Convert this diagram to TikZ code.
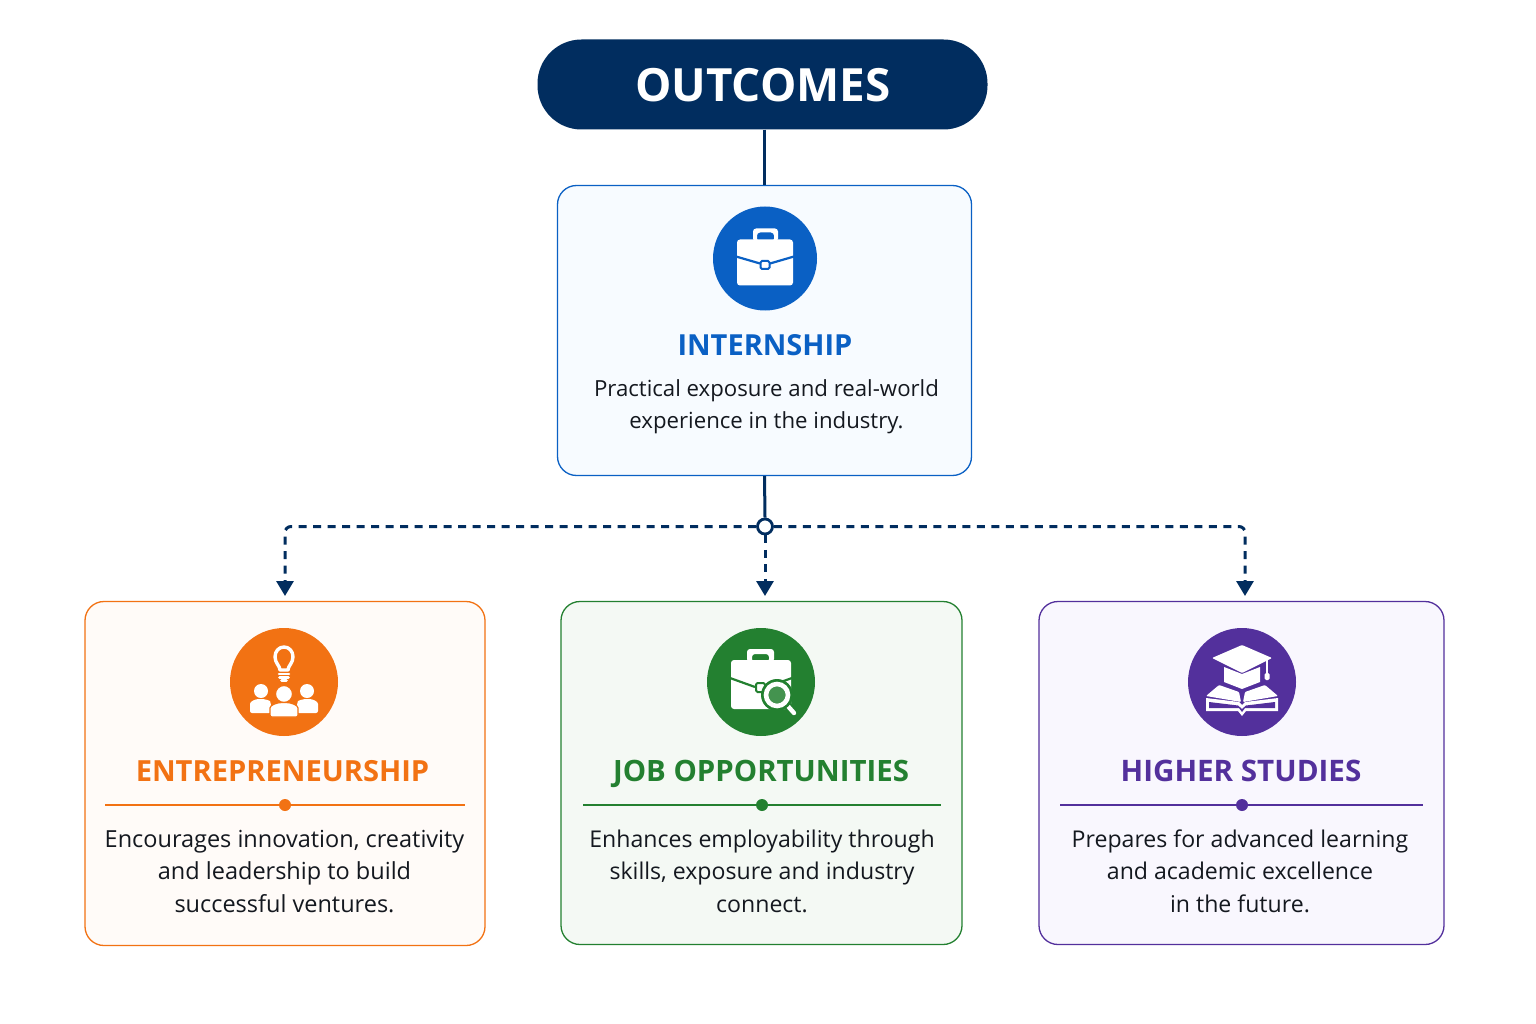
\documentclass[tikz,border=0pt]{standalone}
\usepackage{fontspec}
\setmainfont{Open Sans}
\usetikzlibrary{arrows.meta,shapes.geometric}
\definecolor{navy}{HTML}{012D5F}
\definecolor{cblue}{HTML}{0A60C4}
\definecolor{corange}{HTML}{F27213}
\definecolor{cgreen}{HTML}{238030}
\definecolor{cpurple}{HTML}{53309C}
\definecolor{ink}{HTML}{14181F}
\definecolor{tblue}{HTML}{F7FBFF}
\definecolor{torange}{HTML}{FFFBF8}
\definecolor{tgreen}{HTML}{F4F9F4}
\definecolor{tpurple}{HTML}{F9F7FE}
\tikzset{
  pill/.style={fill=navy,rounded corners=44pt,minimum width=450pt,minimum height=90pt,inner sep=0},
  pilltext/.style={text=white,inner sep=0,anchor=base,font=\fontsize{45.8}{50}\selectfont\bfseries},
  card/.style={draw=#1,line width=1.3pt,rounded corners=19pt,inner sep=0},
  badge/.style={circle,fill=#1,inner sep=0},
  head/.style={text=#1,inner sep=0,anchor=base,font=\fontsize{29.4}{32}\selectfont\bfseries},
  body/.style={text=ink,align=center,inner sep=0,font=\fontsize{23.1}{32.4}\selectfont},
  rulel/.style={draw=#1,line width=1.1pt},
  bead/.style={circle,fill=#1,minimum size=12pt,inner sep=0},
  solidlink/.style={draw=navy,line width=3pt},
  droptip/.style={draw=navy,line width=3pt,dash pattern=on 8pt off 6.5pt,rounded corners=6pt,-{Triangle[width=17pt,length=15pt,sep=0pt]}},
  hubnode/.style={circle,draw=navy,line width=2.8pt,fill=white,minimum size=15pt,inner sep=0},
}
\begin{document}
\begin{tikzpicture}[x=1pt,y=-1pt]
\useasboundingbox (0,0) rectangle (1536,1024);
\fill[white] (0,0) rectangle (1536,1024);
% Nodes
\node[pill] (outcomes) at (762.5,84.5) {};
\node[pilltext] (ot) at (763,102) {OUTCOMES};
\node[card=cblue,fill=tblue,minimum width=414pt,minimum height=290pt] (intern) at (764.5,330.5) {};
\node[card=corange,fill=torange,minimum width=400pt,minimum height=344pt] (entre) at (285,773.5) {};
\node[card=cgreen,fill=tgreen,minimum width=401pt,minimum height=343pt] (jobs) at (761.5,773) {};
\node[card=cpurple,fill=tpurple,minimum width=405pt,minimum height=343pt] (higher) at (1241.5,773) {};
\node[hubnode] (hub) at (765,526.5) {};
\coordinate (endA) at (285,596);
\coordinate (endB) at (765,596);
\coordinate (endC) at (1245,596);
% Connectors
\draw[solidlink] (outcomes.south -| intern.north) -- (intern.north);
\draw[solidlink] (intern.south) -- (hub.north);
\draw[droptip] (hub.west) -| (endA);
\draw[droptip] (hub.east) -| (endC);
\draw[droptip] (hub.south) -- (endB);
% Internship
\node[badge=cblue,minimum size=104pt] (b1) at (765,258.5) {};
\begin{scope}[shift={(b1.center)}]
 \fill[white,rounded corners=3pt] (-28,-19) rectangle (28,27);
 \fill[white,even odd rule,rounded corners=3pt] (-12,-17) -- (-12,-30) -- (13,-30) -- (13,-17) -- cycle (-8,-17) -- (-8,-26) -- (9,-26) -- (9,-17) -- cycle;
 \draw[cblue,line width=2.2pt] (-29,-2) -- (-5,5) (5,5) -- (29,-2);
 \draw[cblue,line width=2pt,fill=white,rounded corners=1.5pt] (-4.5,2.5) rectangle (4.5,10.5);
\end{scope}
\node[head=cblue,font=\fontsize{29}{32}\selectfont\bfseries] (t1) at (765,355.5) {INTERNSHIP};
\node[body,font=\fontsize{22.2}{32}\selectfont] (d1) at (766.5,407) {Practical exposure and real-world\\experience in the industry.};
% Entrepreneurship
\node[badge=corange,minimum size=108pt] (b2) at (284,682) {};
\begin{scope}[shift={(b2.center)}]
 \draw[white,line width=3.4pt,line join=round] (-4,-12) .. controls (-4,-16) and (-9,-19) .. (-9,-25) .. controls (-9,-31) and (-5,-35) .. (0,-35) .. controls (5,-35) and (9,-31) .. (9,-25) .. controls (9,-19) and (4,-16) .. (4,-12) -- cycle;
 \draw[white,line width=2.6pt,line cap=round] (-5,-8) -- (5,-8) (-4.5,-4.5) -- (4.5,-4.5) (-2.5,-1.5) -- (2.5,-1.5);
 \fill[white] (-23,9) circle (7);
 \fill[white] (23,9) circle (7);
 \fill[white,rounded corners=2pt] (-34,31) -- (-34,24) .. controls (-34,19) and (-28,17) .. (-23,17) .. controls (-18,17) and (-14,19) .. (-13,21) -- (-13,31) -- cycle;
 \fill[white,rounded corners=2pt] (34,31) -- (34,24) .. controls (34,19) and (28,17) .. (23,17) .. controls (18,17) and (14,19) .. (13,21) -- (13,31) -- cycle;
 \draw[corange,line width=1.2pt,fill=white] (0,12) circle (8.5);
 \draw[corange,line width=1.2pt,fill=white,rounded corners=2pt] (-14,35) -- (-14,28) .. controls (-14,23) and (-7,20.5) .. (0,20.5) .. controls (7,20.5) and (14,23) .. (14,28) -- (14,35) -- cycle;
\end{scope}
\node[head=corange,font=\fontsize{29.1}{32}\selectfont\bfseries] (t2) at (282.5,781) {ENTREPRENEURSHIP};
\draw[rulel=corange] (105,805) -- (465,805);
\node[bead=corange] (p2) at (285,805) {};
\node[body,font=\fontsize{23.5}{32.4}\selectfont] (d2) at (284.5,871.5) {Encourages innovation, creativity\\and leadership to build\\successful ventures.};
% Jobs
\node[badge=cgreen,minimum size=108pt] (b3) at (761,682) {};
\begin{scope}[shift={(b3.center)}]
 \fill[white,rounded corners=3pt] (-30,-22) rectangle (30,27);
 \fill[white,even odd rule,rounded corners=3pt] (-14,-20) -- (-14,-33) -- (13,-33) -- (13,-20) -- cycle (-9,-20) -- (-9,-28) -- (8,-28) -- (8,-20) -- cycle;
 \draw[cgreen,line width=2.2pt] (-31,-4) -- (-6,5) (6,5) -- (31,-4);
 \draw[cgreen,line width=2pt,fill=white,rounded corners=1.5pt] (-5,1) rectangle (4,10);
 \draw[cgreen,line width=8pt,line cap=round] (25,22) -- (33,31);
 \draw[white,line width=4.4pt,line cap=round] (25,22) -- (33,31);
 \fill[cgreen] (16,13) circle (16);
 \draw[white,line width=4.6pt,fill=cgreen!85!white] (16,13) circle (11);
\end{scope}
\node[head=cgreen] (t3) at (761,781) {JOB OPPORTUNITIES};
\draw[rulel=cgreen] (583,805) -- (941,805);
\node[bead=cgreen] (p3) at (762,805) {};
\node[body] (d3) at (762,871) {Enhances employability through\\skills, exposure and industry\\connect.};
% Higher
\node[badge=cpurple,minimum size=108pt] (b4) at (1242,682) {};
\begin{scope}[shift={(b4.center)}]
 \fill[white] (-18,-15) -- (-18,0) -- (0,7) -- (18,0) -- (18,-15) -- (0,-8) -- cycle;
 \fill[white,rounded corners=1pt] (0,-37) -- (30,-24) -- (0,-9) -- (-30,-24) -- cycle;
 \draw[white,line width=2pt] (25,-22) -- (25,-8);
 \fill[white,rounded corners=1.5pt] (22.5,-9) rectangle (27.5,-2);
 \fill[white,rounded corners=1pt] (-36,14) -- (-23,3) -- (-3,10) -- (-1,20) -- cycle;
 \fill[white,rounded corners=1pt] (36,14) -- (23,3) -- (3,10) -- (1,20) -- cycle;
 \fill[white] (-36,16) -- (-3,20) -- (0,23) -- (3,20) -- (36,16) -- (36,29) -- (4,29) -- (0,34) -- (-4,29) -- (-36,29) -- cycle;
 \fill[cpurple] (-33,20) -- (-4,23.5) -- (0,27) -- (4,23.5) -- (33,20) -- (33,26) -- (3,26) -- (0,30) -- (-3,26) -- (-33,26) -- cycle;
\end{scope}
\node[head=cpurple,font=\fontsize{29.6}{32}\selectfont\bfseries] (t4) at (1241,781) {HIGHER STUDIES};
\draw[rulel=cpurple] (1060,805) -- (1423,805);
\node[bead=cpurple] (p4) at (1242,805) {};
\node[body] (d4) at (1240,871) {Prepares for advanced learning\\and academic excellence\\in the future.};
\end{tikzpicture}
\end{document}
